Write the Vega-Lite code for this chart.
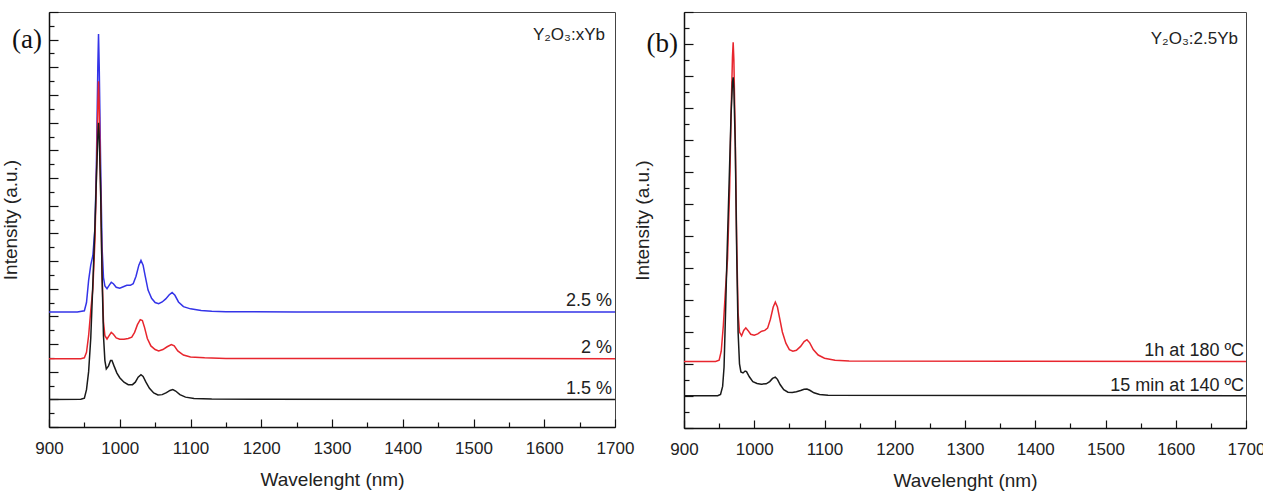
{
  "$schema": "https://vega.github.io/schema/vega-lite/v6.json",
  "padding": {"left": 0, "top": 10, "right": 0, "bottom": 0},
  "background": "white",
  "bounds": "flush",
  "spacing": 69,
  "config": {
    "font": "Liberation Sans",
    "view": {"stroke": "#444", "strokeWidth": 1},
    "axis": {
      "grid": false,
      "domainColor": "#111",
      "domainWidth": 1.5,
      "tickColor": "#111",
      "tickWidth": 1.2,
      "labelFont": "Liberation Sans",
      "labelFontSize": 17,
      "labelColor": "#222",
      "labelFlush": false,
      "labelOverlap": false,
      "titleFont": "Liberation Sans",
      "titleFontSize": 19,
      "titleFontWeight": "normal",
      "titleColor": "#222"
    }
  },
  "datasets": {
    "a": [
      {"s":"2.5 %","w":900,"i":4.16},{"s":"2.5 %","w":940,"i":4.16},{"s":"2.5 %","w":950,"i":4.2},{"s":"2.5 %","w":953,"i":4.5},{"s":"2.5 %","w":956,"i":5.3},{"s":"2.5 %","w":959,"i":5.85},{"s":"2.5 %","w":962,"i":6.2},{"s":"2.5 %","w":965,"i":7.2},{"s":"2.5 %","w":967,"i":9.5},{"s":"2.5 %","w":969,"i":13.0},{"s":"2.5 %","w":970,"i":14.2},{"s":"2.5 %","w":971,"i":13.0},{"s":"2.5 %","w":973,"i":9.5},{"s":"2.5 %","w":975,"i":6.5},{"s":"2.5 %","w":977,"i":5.4},{"s":"2.5 %","w":979,"i":5.1},{"s":"2.5 %","w":982,"i":5.0},{"s":"2.5 %","w":985,"i":5.12},{"s":"2.5 %","w":988,"i":5.23},{"s":"2.5 %","w":991,"i":5.18},{"s":"2.5 %","w":995,"i":5.05},{"s":"2.5 %","w":1000,"i":5.02},{"s":"2.5 %","w":1005,"i":5.07},{"s":"2.5 %","w":1010,"i":5.12},{"s":"2.5 %","w":1015,"i":5.12},{"s":"2.5 %","w":1019,"i":5.18},{"s":"2.5 %","w":1023,"i":5.45},{"s":"2.5 %","w":1027,"i":5.85},{"s":"2.5 %","w":1030,"i":6.02},{"s":"2.5 %","w":1033,"i":5.85},{"s":"2.5 %","w":1036,"i":5.45},{"s":"2.5 %","w":1040,"i":4.95},{"s":"2.5 %","w":1045,"i":4.65},{"s":"2.5 %","w":1050,"i":4.5},{"s":"2.5 %","w":1055,"i":4.46},{"s":"2.5 %","w":1060,"i":4.52},{"s":"2.5 %","w":1065,"i":4.63},{"s":"2.5 %","w":1070,"i":4.78},{"s":"2.5 %","w":1074,"i":4.86},{"s":"2.5 %","w":1078,"i":4.76},{"s":"2.5 %","w":1083,"i":4.52},{"s":"2.5 %","w":1090,"i":4.35},{"s":"2.5 %","w":1100,"i":4.27},{"s":"2.5 %","w":1115,"i":4.21},{"s":"2.5 %","w":1130,"i":4.18},{"s":"2.5 %","w":1150,"i":4.17},{"s":"2.5 %","w":1250,"i":4.16},{"s":"2.5 %","w":1700,"i":4.16},
      {"s":"2 %","w":900,"i":2.47},{"s":"2 %","w":945,"i":2.47},{"s":"2 %","w":950,"i":2.5},{"s":"2 %","w":953,"i":2.7},{"s":"2 %","w":956,"i":3.3},{"s":"2 %","w":959,"i":4.2},{"s":"2 %","w":962,"i":5.0},{"s":"2 %","w":965,"i":6.8},{"s":"2 %","w":967,"i":9.0},{"s":"2 %","w":969,"i":11.6},{"s":"2 %","w":970,"i":12.5},{"s":"2 %","w":971,"i":11.6},{"s":"2 %","w":973,"i":8.5},{"s":"2 %","w":975,"i":5.5},{"s":"2 %","w":977,"i":3.8},{"s":"2 %","w":979,"i":3.3},{"s":"2 %","w":982,"i":3.18},{"s":"2 %","w":985,"i":3.3},{"s":"2 %","w":988,"i":3.42},{"s":"2 %","w":991,"i":3.35},{"s":"2 %","w":995,"i":3.22},{"s":"2 %","w":1000,"i":3.17},{"s":"2 %","w":1006,"i":3.17},{"s":"2 %","w":1012,"i":3.2},{"s":"2 %","w":1017,"i":3.25},{"s":"2 %","w":1021,"i":3.42},{"s":"2 %","w":1025,"i":3.7},{"s":"2 %","w":1029,"i":3.88},{"s":"2 %","w":1032,"i":3.85},{"s":"2 %","w":1035,"i":3.6},{"s":"2 %","w":1039,"i":3.2},{"s":"2 %","w":1044,"i":2.93},{"s":"2 %","w":1050,"i":2.8},{"s":"2 %","w":1055,"i":2.75},{"s":"2 %","w":1061,"i":2.8},{"s":"2 %","w":1067,"i":2.9},{"s":"2 %","w":1073,"i":2.98},{"s":"2 %","w":1077,"i":2.93},{"s":"2 %","w":1082,"i":2.75},{"s":"2 %","w":1090,"i":2.6},{"s":"2 %","w":1100,"i":2.53},{"s":"2 %","w":1120,"i":2.5},{"s":"2 %","w":1150,"i":2.48},{"s":"2 %","w":1700,"i":2.47},
      {"s":"1.5 %","w":900,"i":0.99},{"s":"1.5 %","w":945,"i":1.0},{"s":"1.5 %","w":950,"i":1.04},{"s":"1.5 %","w":953,"i":1.35},{"s":"1.5 %","w":956,"i":2.0},{"s":"1.5 %","w":959,"i":3.2},{"s":"1.5 %","w":962,"i":5.2},{"s":"1.5 %","w":965,"i":7.3},{"s":"1.5 %","w":967,"i":9.0},{"s":"1.5 %","w":969,"i":10.5},{"s":"1.5 %","w":970,"i":11.0},{"s":"1.5 %","w":971,"i":10.5},{"s":"1.5 %","w":973,"i":8.5},{"s":"1.5 %","w":975,"i":5.5},{"s":"1.5 %","w":977,"i":3.3},{"s":"1.5 %","w":979,"i":2.4},{"s":"1.5 %","w":981,"i":2.1},{"s":"1.5 %","w":984,"i":2.2},{"s":"1.5 %","w":987,"i":2.4},{"s":"1.5 %","w":989,"i":2.4},{"s":"1.5 %","w":992,"i":2.2},{"s":"1.5 %","w":996,"i":1.95},{"s":"1.5 %","w":1000,"i":1.78},{"s":"1.5 %","w":1006,"i":1.62},{"s":"1.5 %","w":1012,"i":1.53},{"s":"1.5 %","w":1018,"i":1.53},{"s":"1.5 %","w":1022,"i":1.62},{"s":"1.5 %","w":1026,"i":1.8},{"s":"1.5 %","w":1030,"i":1.89},{"s":"1.5 %","w":1033,"i":1.83},{"s":"1.5 %","w":1037,"i":1.62},{"s":"1.5 %","w":1042,"i":1.4},{"s":"1.5 %","w":1048,"i":1.23},{"s":"1.5 %","w":1054,"i":1.16},{"s":"1.5 %","w":1060,"i":1.17},{"s":"1.5 %","w":1066,"i":1.24},{"s":"1.5 %","w":1071,"i":1.32},{"s":"1.5 %","w":1075,"i":1.35},{"s":"1.5 %","w":1079,"i":1.3},{"s":"1.5 %","w":1085,"i":1.17},{"s":"1.5 %","w":1093,"i":1.08},{"s":"1.5 %","w":1105,"i":1.03},{"s":"1.5 %","w":1130,"i":1.01},{"s":"1.5 %","w":1200,"i":1.0},{"s":"1.5 %","w":1700,"i":0.99}
    ],
    "aLabels": [
      {"label":"2.5 %","w":1700,"i":4.16},
      {"label":"2 %","w":1700,"i":2.47},
      {"label":"1.5 %","w":1700,"i":0.99}
    ],
    "b": [
      {"s":"1h at 180 ºC","w":900,"i":2.08},{"s":"1h at 180 ºC","w":945,"i":2.08},{"s":"1h at 180 ºC","w":950,"i":2.12},{"s":"1h at 180 ºC","w":953,"i":2.4},{"s":"1h at 180 ºC","w":956,"i":3.2},{"s":"1h at 180 ºC","w":959,"i":4.3},{"s":"1h at 180 ºC","w":962,"i":5.3},{"s":"1h at 180 ºC","w":965,"i":7.5},{"s":"1h at 180 ºC","w":967,"i":9.8},{"s":"1h at 180 ºC","w":969,"i":11.6},{"s":"1h at 180 ºC","w":970,"i":12.05},{"s":"1h at 180 ºC","w":971,"i":11.5},{"s":"1h at 180 ºC","w":973,"i":9.0},{"s":"1h at 180 ºC","w":975,"i":5.8},{"s":"1h at 180 ºC","w":977,"i":3.6},{"s":"1h at 180 ºC","w":979,"i":3.0},{"s":"1h at 180 ºC","w":982,"i":2.88},{"s":"1h at 180 ºC","w":985,"i":3.05},{"s":"1h at 180 ºC","w":988,"i":3.13},{"s":"1h at 180 ºC","w":991,"i":3.05},{"s":"1h at 180 ºC","w":995,"i":2.93},{"s":"1h at 180 ºC","w":1000,"i":2.9},{"s":"1h at 180 ºC","w":1005,"i":2.94},{"s":"1h at 180 ºC","w":1010,"i":3.02},{"s":"1h at 180 ºC","w":1015,"i":3.05},{"s":"1h at 180 ºC","w":1019,"i":3.12},{"s":"1h at 180 ºC","w":1023,"i":3.4},{"s":"1h at 180 ºC","w":1027,"i":3.78},{"s":"1h at 180 ºC","w":1030,"i":3.93},{"s":"1h at 180 ºC","w":1033,"i":3.78},{"s":"1h at 180 ºC","w":1036,"i":3.45},{"s":"1h at 180 ºC","w":1040,"i":3.0},{"s":"1h at 180 ºC","w":1045,"i":2.65},{"s":"1h at 180 ºC","w":1050,"i":2.45},{"s":"1h at 180 ºC","w":1055,"i":2.4},{"s":"1h at 180 ºC","w":1060,"i":2.43},{"s":"1h at 180 ºC","w":1066,"i":2.55},{"s":"1h at 180 ºC","w":1071,"i":2.7},{"s":"1h at 180 ºC","w":1075,"i":2.76},{"s":"1h at 180 ºC","w":1079,"i":2.66},{"s":"1h at 180 ºC","w":1084,"i":2.45},{"s":"1h at 180 ºC","w":1091,"i":2.28},{"s":"1h at 180 ºC","w":1100,"i":2.18},{"s":"1h at 180 ºC","w":1115,"i":2.12},{"s":"1h at 180 ºC","w":1135,"i":2.09},{"s":"1h at 180 ºC","w":1700,"i":2.08},
      {"s":"15 min at 140 ºC","w":900,"i":1.01},{"s":"15 min at 140 ºC","w":948,"i":1.01},{"s":"15 min at 140 ºC","w":952,"i":1.05},{"s":"15 min at 140 ºC","w":955,"i":1.3},{"s":"15 min at 140 ºC","w":957,"i":1.9},{"s":"15 min at 140 ºC","w":959,"i":3.5},{"s":"15 min at 140 ºC","w":961,"i":5.2},{"s":"15 min at 140 ºC","w":964,"i":7.5},{"s":"15 min at 140 ºC","w":967,"i":9.8},{"s":"15 min at 140 ºC","w":969,"i":10.8},{"s":"15 min at 140 ºC","w":970,"i":10.96},{"s":"15 min at 140 ºC","w":971,"i":10.6},{"s":"15 min at 140 ºC","w":973,"i":8.8},{"s":"15 min at 140 ºC","w":975,"i":5.5},{"s":"15 min at 140 ºC","w":977,"i":3.0},{"s":"15 min at 140 ºC","w":979,"i":2.0},{"s":"15 min at 140 ºC","w":981,"i":1.75},{"s":"15 min at 140 ºC","w":984,"i":1.72},{"s":"15 min at 140 ºC","w":987,"i":1.78},{"s":"15 min at 140 ºC","w":989,"i":1.76},{"s":"15 min at 140 ºC","w":993,"i":1.6},{"s":"15 min at 140 ºC","w":998,"i":1.45},{"s":"15 min at 140 ºC","w":1004,"i":1.39},{"s":"15 min at 140 ºC","w":1010,"i":1.37},{"s":"15 min at 140 ºC","w":1017,"i":1.38},{"s":"15 min at 140 ºC","w":1022,"i":1.45},{"s":"15 min at 140 ºC","w":1026,"i":1.55},{"s":"15 min at 140 ºC","w":1030,"i":1.59},{"s":"15 min at 140 ºC","w":1033,"i":1.52},{"s":"15 min at 140 ºC","w":1037,"i":1.35},{"s":"15 min at 140 ºC","w":1042,"i":1.2},{"s":"15 min at 140 ºC","w":1048,"i":1.12},{"s":"15 min at 140 ºC","w":1054,"i":1.11},{"s":"15 min at 140 ºC","w":1060,"i":1.13},{"s":"15 min at 140 ºC","w":1066,"i":1.17},{"s":"15 min at 140 ºC","w":1071,"i":1.21},{"s":"15 min at 140 ºC","w":1075,"i":1.22},{"s":"15 min at 140 ºC","w":1079,"i":1.18},{"s":"15 min at 140 ºC","w":1085,"i":1.1},{"s":"15 min at 140 ºC","w":1093,"i":1.05},{"s":"15 min at 140 ºC","w":1105,"i":1.02},{"s":"15 min at 140 ºC","w":1700,"i":1.01}
    ],
    "bLabels": [
      {"label":"1h at 180 ºC","w":1700,"i":2.08},
      {"label":"15 min at 140 ºC","w":1700,"i":1.01}
    ],
    "aTitle": [{"t":"Y₂O₃:xYb","w":1700,"i":14}],
    "aPanel": [{"t":"(a)","w":900,"i":14}],
    "bTitle": [{"t":"Y₂O₃:2.5Yb","w":1700,"i":12}],
    "bPanel": [{"t":"(b)","w":900,"i":12}]
  },
  "hconcat": [
    {
      "width": 566,
      "height": 415,
      "encoding": {
        "x": {"field": "w", "type": "quantitative",
          "scale": {"domain": [900, 1700], "nice": false},
          "axis": {"title": "Wavelenght (nm)", "format": "d",
            "values": [900,950,1000,1050,1100,1150,1200,1250,1300,1350,1400,1450,1500,1550,1600,1650,1700],
            "labelExpr": "datum.value % 100 === 0 ? datum.label : ''",
            "tickSize": {"condition": {"test": "datum.value % 100 === 0", "value": -8}, "value": -5},
            "labelPadding": 21, "titlePadding": 11}},
        "y": {"field": "i", "type": "quantitative",
          "scale": {"domain": [0, 15], "nice": false},
          "axis": {"title": "Intensity (a.u.)", "labels": false,
            "values": [0,0.5,1,1.5,2,2.5,3,3.5,4,4.5,5,5.5,6,6.5,7,7.5,8,8.5,9,9.5,10,10.5,11,11.5,12,12.5,13,13.5,14,14.5,15],
            "tickSize": {"condition": {"test": "datum.value % 1 === 0", "value": -9}, "value": -5},
            "titlePadding": 28}}
      },
      "layer": [
        {
          "data": {"name": "a"},
          "mark": {"type": "line", "strokeWidth": 1.5},
          "encoding": {
            "color": {"field": "s", "type": "nominal", "legend": null,
              "scale": {"domain": ["1.5 %", "2 %", "2.5 %"], "range": ["#1a1a1a", "#e8262e", "#3434e8"]}}
          }
        },
        {
          "data": {"name": "aLabels"},
          "mark": {"type": "text", "align": "right", "baseline": "alphabetic", "dx": -3, "dy": -6, "fontSize": 18, "color": "#222"},
          "encoding": {"text": {"field": "label"}}
        },
        {
          "data": {"name": "aTitle"},
          "mark": {"type": "text", "align": "right", "baseline": "alphabetic", "dx": -10, "fontSize": 17, "color": "#222"},
          "encoding": {"text": {"field": "t"}}
        },
        {
          "data": {"name": "aPanel"},
          "mark": {"type": "text", "align": "right", "baseline": "middle", "dx": -7, "font": "Liberation Serif", "fontSize": 27, "color": "#111"},
          "encoding": {"text": {"field": "t"}}
        }
      ]
    },
    {
      "width": 562,
      "height": 416,
      "encoding": {
        "x": {"field": "w", "type": "quantitative",
          "scale": {"domain": [900, 1700], "nice": false},
          "axis": {"title": "Wavelenght (nm)", "format": "d",
            "values": [900,950,1000,1050,1100,1150,1200,1250,1300,1350,1400,1450,1500,1550,1600,1650,1700],
            "labelExpr": "datum.value % 100 === 0 ? datum.label : ''",
            "tickSize": {"condition": {"test": "datum.value % 100 === 0", "value": -8}, "value": -5},
            "labelPadding": 21, "titlePadding": 11}},
        "y": {"field": "i", "type": "quantitative",
          "scale": {"domain": [0, 13], "nice": false},
          "axis": {"title": "Intensity (a.u.)", "labels": false,
            "values": [0,0.5,1,1.5,2,2.5,3,3.5,4,4.5,5,5.5,6,6.5,7,7.5,8,8.5,9,9.5,10,10.5,11,11.5,12,12.5,13],
            "tickSize": {"condition": {"test": "datum.value % 1 === 0", "value": -9}, "value": -5},
            "titlePadding": 31}}
      },
      "layer": [
        {
          "data": {"name": "b"},
          "mark": {"type": "line", "strokeWidth": 1.5},
          "encoding": {
            "color": {"field": "s", "type": "nominal", "legend": null,
              "scale": {"domain": ["15 min at 140 ºC", "1h at 180 ºC"], "range": ["#1a1a1a", "#e8262e"]}}
          }
        },
        {
          "data": {"name": "bLabels"},
          "mark": {"type": "text", "align": "right", "baseline": "alphabetic", "dx": -2, "dy": -5, "fontSize": 18, "color": "#222"},
          "encoding": {"text": {"field": "label"}}
        },
        {
          "data": {"name": "bTitle"},
          "mark": {"type": "text", "align": "right", "baseline": "alphabetic", "dx": -8, "fontSize": 17, "color": "#222"},
          "encoding": {"text": {"field": "t"}}
        },
        {
          "data": {"name": "bPanel"},
          "mark": {"type": "text", "align": "right", "baseline": "middle", "dx": -6, "font": "Liberation Serif", "fontSize": 27, "color": "#111"},
          "encoding": {"text": {"field": "t"}}
        }
      ]
    }
  ]
}
